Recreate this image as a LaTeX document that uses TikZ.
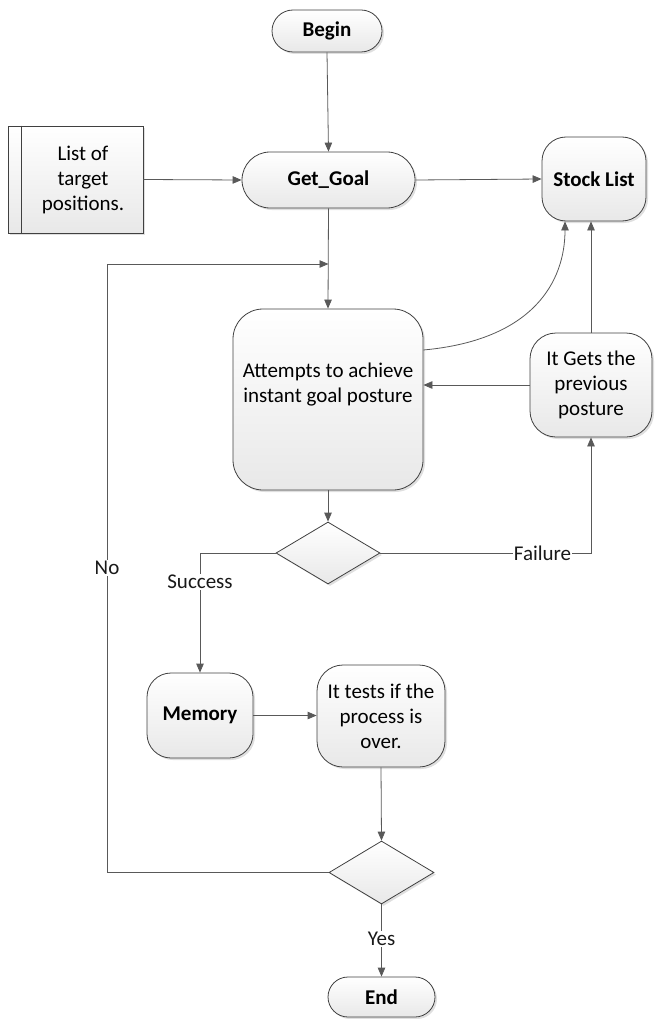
\documentclass[tikz,border=0pt]{standalone}
\usepackage{fontspec}
\setmainfont{Carlito}
\usetikzlibrary{arrows.meta,shapes.geometric,shadows,positioning,calc}
\begin{document}
\begin{tikzpicture}[x=1pt,y=-1pt,
  font=\fontsize{21pt}{25pt}\selectfont,
  boxbase/.style={draw=black!75, line width=0.8pt, top color=white, bottom color=black!9,
     drop shadow={opacity=0.25, shadow xshift=2pt, shadow yshift=-2pt},
     inner sep=2pt, align=center},
  term/.style={boxbase, rounded corners=#1, font=\fontsize{21pt}{25pt}\selectfont\bfseries},
  rbox/.style={boxbase, rounded corners=#1},
  dia/.style={boxbase, shape=diamond, inner sep=0pt},
  conn/.style={draw=black!65, line width=0.8pt},
  arr/.style={conn, -{Triangle[length=9pt,width=7.5pt]}},
  lbl/.style={fill=white, inner sep=1pt, text=black!90}]
\useasboundingbox (0,0) rectangle (654,1019);

% nodes
\node[term=21pt, minimum width=110pt, minimum height=42pt] (begin) at (327,31) {Begin};
\node[term=28pt, minimum width=173pt, minimum height=56pt] (gg) at (328.5,180) {Get\_Goal};
\node[boxbase, minimum width=135pt, minimum height=107pt] (list) at (75.5,179.5) {};
\node[align=center] (listtxt) at (83,180) {List of\\target\\positions.};
\node[rbox=24pt, minimum width=104pt, minimum height=84pt, font=\fontsize{21pt}{25pt}\selectfont\bfseries] (sl) at (594,179) {Stock List};
\node[rbox=30pt, minimum width=190pt, minimum height=181pt] (att) at (328,399.5) {};
\node[align=center] (atttxt) at (328,385) {Attempts to achieve\\instant goal posture};
\node[rbox=26pt, minimum width=122pt, minimum height=104pt] (igp) at (591,385) {It Gets the\\previous\\posture};
\node[dia, minimum width=104pt, minimum height=62pt] (d1) at (328,553) {};
\node[rbox=24pt, minimum width=106pt, minimum height=85pt, font=\fontsize{21pt}{25pt}\selectfont\bfseries] (mem) at (200,715.5) {Memory};
\node[rbox=26pt, minimum width=128pt, minimum height=102pt] (itt) at (381,716) {It tests if the\\process is\\over.};
\node[dia, minimum width=105pt, minimum height=63pt] (d2) at (381.5,872.5) {};
\node[term=20pt, minimum width=107pt, minimum height=40pt] (end) at (381.5,997) {End};

\draw[draw=black!75, line width=0.8pt] ([xshift=14pt]list.north west) -- ([xshift=14pt]list.south west);

\coordinate (lp) at (107,264);

% connectors
\draw[arr] (begin.south) -- (gg.north);
\draw[arr] (list.east) -- (gg.west);
\draw[arr] (gg.east) -- (sl.west);
\draw[arr] (gg.south) -- (att.north);
\draw[arr] ([yshift=49.5pt]att.east) .. controls +(110,-10) and +(0,60) .. ([xshift=-29pt]sl.south);
\draw[arr] (igp.north) -- (igp.north |- sl.south);
\draw[arr] (igp.west) -- (igp.west -| att.east);
\draw[arr] (att.south) -- (d1.north);
\draw[arr] (d1.east) -- node[lbl, pos=0.77] (flbl) {Failure} (d1.east -| igp.south) -- (igp.south);
\draw[arr] (d1.west) -| node[lbl, pos=0.62] (slbl) {Success} (mem.north);
\draw[arr] (mem.east) -- (mem.east -| itt.west);
\draw[arr] (itt.south) -- (d2.north);
\draw[arr] (d2.west) -| node[lbl, pos=0.75] (nlbl) {No} (lp) -- (lp -| gg.south);
\draw[arr] (d2.south) -- node[lbl, pos=0.48] (ylbl) {Yes} (end.north);
\end{tikzpicture}
\end{document}
